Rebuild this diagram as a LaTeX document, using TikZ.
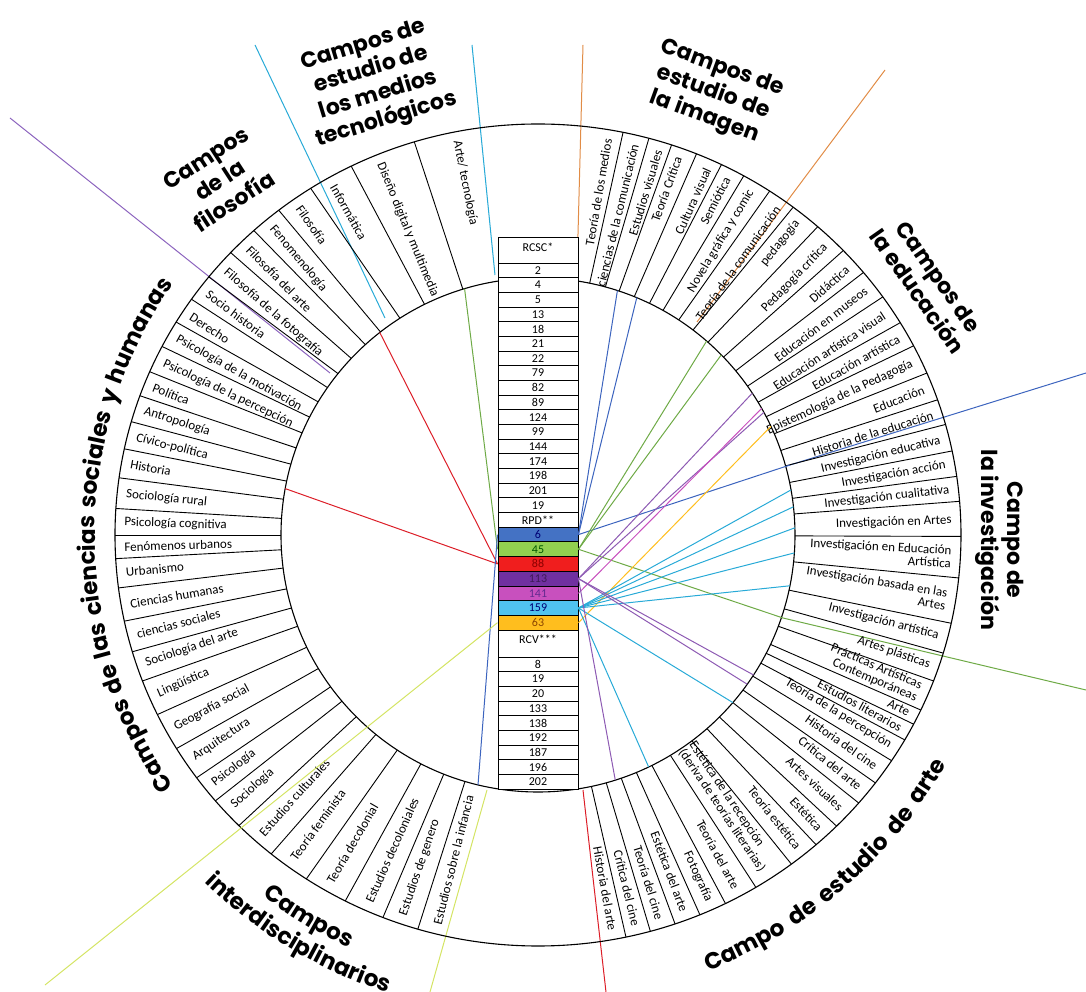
\documentclass[tikz,border=0pt]{standalone}
\usepackage{fontspec}
\setmainfont{Carlito}
\newfontfamily\titlefont{Poppins}
\usetikzlibrary{decorations.text}

\definecolor{cblue}{RGB}{68,114,196}
\definecolor{cgreen}{RGB}{146,208,80}
\definecolor{cred}{RGB}{240,30,30}
\definecolor{cpurple}{RGB}{112,48,160}
\definecolor{cmagenta}{RGB}{200,80,190}
\definecolor{ccyan}{RGB}{80,195,240}
\definecolor{corange}{RGB}{255,190,30}
\definecolor{lpurple}{RGB}{140,100,190}
\definecolor{lcyan}{RGB}{40,170,215}
\definecolor{lorange}{RGB}{225,140,70}
\definecolor{lblue}{RGB}{60,100,190}
\definecolor{lgreen}{RGB}{110,170,70}
\definecolor{lred}{RGB}{220,30,40}
\definecolor{lyellow}{RGB}{212,228,100}

\tikzset{
  field/.style={font=\fontsize{13}{13}\selectfont, inner sep=1pt},
  title/.style={font=\titlefont\bfseries\fontsize{22}{26}\selectfont, align=center, inner sep=0pt},
  cell/.style={draw, fill=white, line width=0.9pt, minimum width=80pt, minimum height=14.68pt,
    inner sep=0pt, font=\fontsize{12}{12}\selectfont},
  sep/.style={line width=0.9pt},
  link/.style={line width=1pt},
  curved/.style 2 args={decorate, decoration={text along path, text align=center,
    text={|\titlefont\bfseries\fontsize{23}{27}\selectfont\fontdimen2\font=#2|#1}}},
}

\begin{document}
\begin{tikzpicture}[x=1pt, y=1pt]
\useasboundingbox (-538,-457) rectangle (548,535);

% long boundary lines between the fields
\coordinate (pur0) at (-528,417);  \coordinate (pur1) at (-208,162);
\coordinate (cya0) at (-283,490);  \coordinate (cya1) at (-153,217);
\coordinate (cyb0) at (-66,490);   \coordinate (cyb1) at (-43,260);
\coordinate (ora0) at (45,490);    \coordinate (ora1) at (39,263);
\coordinate (orb0) at (347,465);   \coordinate (orb1) at (159,213);
\coordinate (blu0) at (548,162);   \coordinate (blu1) at (252,70);
\coordinate (gre0) at (548,-155);  \coordinate (gre1) at (245,-83);
\coordinate (red0) at (68,-457);   \coordinate (red1) at (45,-255);
\coordinate (yea0) at (-108,-457); \coordinate (yea1) at (-51,-255);
\coordinate (yeb0) at (-493,-450);
\draw[link, lpurple] (pur0) -- (pur1);
\draw[link, lcyan] (cya0) -- (cya1);
\draw[link, lcyan] (cyb0) -- (cyb1);
\draw[link, lorange] (ora0) -- (ora1);
\draw[link, lorange] (orb0) -- (orb1);
\draw[link, lblue] (blu0) -- (blu1);
\draw[link, lgreen] (gre0) -- (gre1);
\draw[link, lred] (red0) -- (red1);
\draw[link, lyellow] (yea0) -- (yea1);

% rings
\draw[line width=1.1pt] (0,0) circle[radius=257];
\draw[line width=1.1pt] (0,0) ellipse[x radius=423, y radius=411];

% separators
\foreach \a in {78.4,74.8,71.6,68,64.3,60.9,56.8,52.9,48.6,43.8,39.7,35.4,31.1,27.4,23.2,19.2,15.6,
  11.8,8.2,4.7,-0.2,-6,-12.4,-16.7,-20.8,-25.2,-27.4,-29.9,-33.3,-37.1,-40.7,-45.1,-48.9,-53.2,-59,
  -63.7,-67.5,-71.1,-74.6,-78,
  253.5,248.5,242.9,236.8,230.9,225,220.3,216.2,211.3,205.9,200.8,196.5,192.1,187.4,183.3,180,
  176.3,172,167.9,164,160.2,156.6,152.7,148.8,145,141.1,136.6,132.2,127.8,122.5,116.2,107}
  \draw[sep] (\a:257) -- (\a:423 and 411);

% fields, right half (read outwards)
\foreach \a/\t in {80.3/Teoría de los medios, 76.5/ciencias de la comunicación, 73.1/Estudios visuales,
  70.2/Teoría Crítica, 65.8/Cultura visual, 62.8/Semiótica, 59/Novela gráfica y comic,
  54.6/Teoría de la comunicación, 51.2/pedagogía, 46/Pedagogía crítica, 41.6/Didáctica,
  37.6/Educación en museos, 33.2/Educación artística visual, 29.3/Educación artística,
  25.3/Epistemología de la Pedagogía, 21.2/Educación, 17.4/Historia de la educación,
  13.6/Investigación educativa, 10/Investigación acción, 6.4/Investigación cualitativa,
  2.1/Investigación en Artes, -3.1/{Investigación en Educación\\Artística},
  -9.2/{Investigación basada en las\\Artes}, -14.5/Investigación artística, -18.8/Artes plásticas,
  -23/{Prácticas Artísticas\\Contemporáneas}, -26.3/Arte, -28.7/Estudios literarios,
  -31.6/Teoría de la percepción, -35.2/Historia del cine, -38.9/Crítica del arte,
  -42.9/Artes visuales, -47/Estética, -51/Teoría estética, -61.4/Teoría del arte,
  -65.6/Fotografía, -69.3/Estética del arte, -72.9/Teoría del cine, -76.3/Crítica del cine,
  -79.6/Historia del arte}
  \node[field, rotate=\a, anchor=east, align=right] at (\a:415 and 403) {\t};
\node[field, rotate=-56.1, anchor=east, align=left] (recep) at (-56.1:413 and 401)
  {Estética de la recepción\\(deriva de teorías literarias)};

% fields, left half (read inwards)
\foreach \a/\t in {255.9/Estudios sobre la infancia, 251/Estudios de genero, 245.9/Estudios decoloniales,
  239.8/Teoría decolonial, 233.7/Teoría feminista, 228.1/Estudios culturales, 222.5/Sociología,
  218.3/Psicología, 213.7/Arquitectura, 208.7/Geografía social, 203.3/Lingüística,
  198.6/Sociología del arte, 194.3/ciencias sociales, 189.9/Ciencias humanas, 185.3/Urbanismo,
  181.7/Fenómenos urbanos, 178.2/Psicología cognitiva, 174.2/Sociología rural, 169.9/Historia,
  166/Cívico-política, 162/Antropología, 158.4/Política, 154.7/Psicología de la percepción,
  150.7/Psicología de la motivación, 147/Derecho, 143/Socio historia,
  139/Filosofía de la fotografía, 134.4/Filosofía del arte, 130/Fenomenología, 125.3/Filosofía,
  119.6/Informática, 112.4/Diseño digital y multimedia, 101.3/{Arte/ tecnología}}
  \node[field, rotate=\a+180, anchor=west, align=left] at (\a:415 and 403) {\t};

% column of references
\node[cell, minimum height=26pt, anchor=north] (rcsc) at (0,298) {};
\node[font=\fontsize{12}{12}\selectfont, below=2pt] at (rcsc.north) {RCSC*};
\foreach \v [count=\i] in {2,4,5,13,18,21,22,79,82,89,124,99,144,174,198,201,19,RPD**}
  \node[cell] (s\i) at (0,{272-(\i-0.5)*14.68}) {\v};
\foreach \v/\c/\k [count=\i] in {6/cblue/blue!45!black, 45/cgreen/green!35!black, 88/cred/red!55!black,
  113/cpurple/cpurple!55!black, 141/cmagenta/cpurple!90!black, 159/ccyan/blue!45!black,
  63/corange/orange!55!black}
  \node[cell, fill=\c, text=\k] (n\v) at (0,{272-(\i+17.5)*14.68}) {\v};
\node[cell, minimum height=27pt, anchor=north] (rcv) at (0,-95) {};
\node[font=\fontsize{12}{12}\selectfont, below=1pt] at (rcv.north) {RCV***};
\foreach \v [count=\i] in {8,19,20,133,138,192,187,196,202}
  \node[cell] (v\i) at (0,{-122-(\i-0.5)*14.68}) {\v};

% links from the coloured rows
\draw[link, lred] (n88.west) -- (169.6:257);
\draw[link, lred] (n88.west) -- (128:257);
\draw[link, lgreen] (n45.west) -- (106.6:257);
\draw[link, lblue] (n6.west) -- (256.5:257);
\draw[link, lyellow] (n63.west) -- (yeb0);
\draw[link, lblue] (n6.east) -- (72:257);
\draw[link, lblue] (n6.east) -- (67.4:257);
\draw[link, lblue] (n6.east) -- (blu1);
\draw[link, lgreen] (n45.east) -- (49:257);
\draw[link, lgreen] (n45.east) -- (44.5:257);
\draw[link, lgreen] (n45.east) -- (gre1);
\draw[link, cpurple!80] (n113.east) -- (33.5:257);
\draw[link, cpurple!80] (n113.east) -- (28.5:257);
\draw[link, cmagenta] (n141.east) -- (29.5:257);
\draw[link, corange] (n63.east) -- (25:257);
\foreach \a in {10.1,6.3,1.6,-4,-11.4,-40.7,-64.5}
  \draw[link, lcyan] (n159.east) -- (\a:257);
\foreach \a in {-33,-35.5,-72.5}
  \draw[link, cpurple!80] (n113.east) -- (\a:257);

% names of the fields
\node[title, rotate=-90] (tinv) at (462,-5) {Campo de\\la investigación};
\node[title, rotate=-55] (tedu) at (390,251) {Campos de\\la educación};
\node[title, rotate=-20] (timg) at (175,442) {Campos de\\estudio de\\la imagen};
\node[title, rotate=17] (tmed) at (-163,452) {Campos de\\estudio de\\los medios\\tecnológicos};
\node[title, rotate=33] (tfil) at (-318,355) {Campos\\de la\\filosofía};
\path[curved={Campos de las ciencias sociales y humanas}{7pt}] (218:443) arc[start angle=218, end angle=142, radius=443];
\path[curved={Campo de estudio de arte}{9pt}] (-78:468) arc[start angle=-78, end angle=-20, radius=468];
\path[curved={Campos}{9pt}] (220:454) arc[start angle=220, end angle=258, radius=454];
\path[curved={interdisciplinarios}{9pt}] (212:482) arc[start angle=212, end angle=266, radius=482];
\end{tikzpicture}
\end{document}
